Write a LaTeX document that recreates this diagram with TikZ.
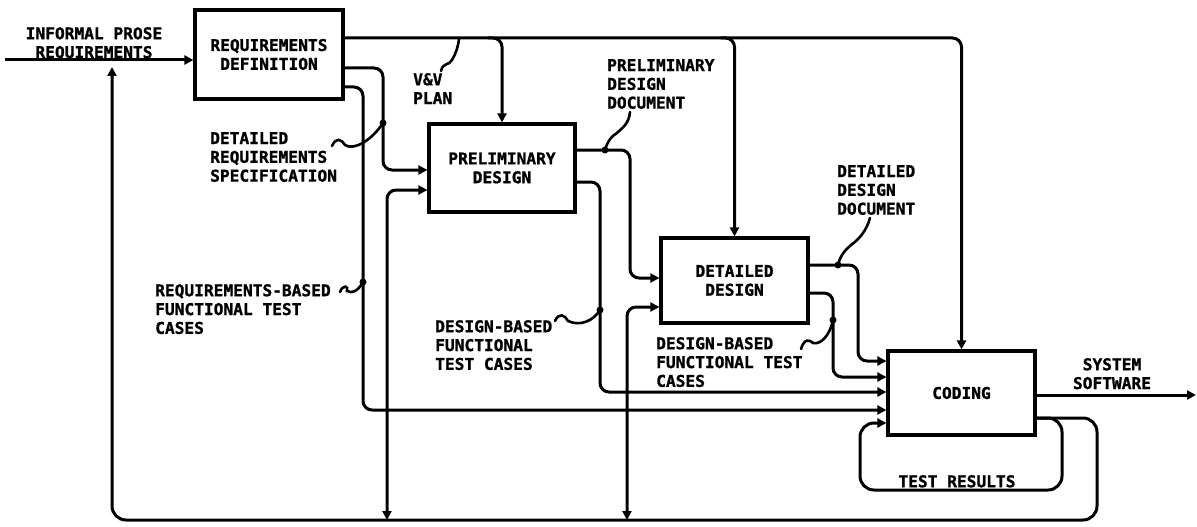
\documentclass[tikz,border=0pt]{standalone}
\usepackage{fontspec}
\newfontfamily\plotfont{DejaVu Sans Mono}[BoldFeatures={FakeBold=1.2}]
\usetikzlibrary{arrows.meta,calc}
\begin{document}
\begin{tikzpicture}[x=1pt,y=-1pt,
  every node/.style={font=\plotfont\bfseries\fontsize{16.2}{18.8}\selectfont},
  box/.style={draw, line width=3.2pt, align=center, inner sep=0pt},
  tip/.style={-{Triangle[length=9pt,width=9pt]}},
  wire/.style={line width=3pt, rounded corners=9pt},
  lbl/.style={anchor=north west, align=left, inner sep=0pt},
  lblc/.style={anchor=north, align=center, inner sep=0pt},
  squig/.style={line width=2.6pt, line cap=round}
]
\useasboundingbox (0,0) rectangle (1197,527);

% boxes
\node[box, minimum width=148pt, minimum height=89pt] (rd) at (269,54.5) {REQUIREMENTS\\DEFINITION};
\node[box, minimum width=146pt, minimum height=88pt] (pd) at (502,168) {PRELIMINARY\\DESIGN};
\node[box, minimum width=147pt, minimum height=85pt] (dd) at (734.5,280.5) {DETAILED\\DESIGN};
\node[box, minimum width=147pt, minimum height=84pt] (cd) at (961.5,393) {CODING};

% labels
\node[lblc] (inform) at (94,27) {INFORMAL PROSE\\REQUIREMENTS};
\node[lbl] (vv) at (413,73) {V\&V\\PLAN};
\node[lbl] (drs) at (210,132) {DETAILED\\REQUIREMENTS\\SPECIFICATION};
\node[lbl] (pdd) at (607,59) {PRELIMINARY\\DESIGN\\DOCUMENT};
\node[lbl] (ddd) at (837,165) {DETAILED\\DESIGN\\DOCUMENT};
\node[lbl] (rbf) at (155,284) {REQUIREMENTS-BASED\\FUNCTIONAL TEST\\CASES};
\node[lbl] (dbf1) at (435,320) {DESIGN-BASED\\FUNCTIONAL\\TEST CASES};
\node[lbl] (dbf2) at (656,337) {DESIGN-BASED\\FUNCTIONAL TEST\\CASES};
\node[lblc] (sys) at (1112,358) {SYSTEM\\SOFTWARE};
\node[lblc] (tr) at (957,475) {TEST RESULTS};

% free ends
\coordinate (inp) at (5,60);
\coordinate (out) at (1196,395);

% input / output
\draw[wire, tip] (inp) -- (rd.west |- 0,60);
\draw[wire, tip] (cd.east |- 0,395) -- (out);

% V&V plan distribution
\draw[wire, tip] (rd.east |- 0,38) -- (cd.north |- 0,38) -- (cd.north);
\draw[wire, tip] ($(pd.north |- 0,38)+(-14,0)$) -- (pd.north |- 0,38) -- (pd.north);
\draw[wire, tip] ($(dd.north |- 0,38)+(-14,0)$) -- (dd.north |- 0,38) -- (dd.north);

% requirements definition outputs
\draw[wire, tip] (rd.east |- 0,68) -- (383,68) -- (383,170) -- (pd.west |- 0,170);
\draw[wire, tip] (rd.east |- 0,87) -- (363,87) -- (363,410) -- (cd.west |- 0,410);

% preliminary design outputs
\draw[wire, tip] (pd.east |- 0,150) -- (630,150) -- (630,278) -- (dd.west |- 0,278);
\draw[wire, tip] (pd.east |- 0,182) -- (600,182) -- (600,392) -- (cd.west |- 0,392);

% detailed design outputs
\draw[wire, tip] (dd.east |- 0,265) -- (858,265) -- (858,361) -- (cd.west |- 0,361);
\draw[wire, tip] (dd.east |- 0,293) -- (833,293) -- (833,377) -- (cd.west |- 0,377);

% test results loops
\draw[wire, rounded corners=14pt, tip] (cd.east |- 0,418) -- (1062,418) -- (1062,490) -- (860,490) -- (860,423) -- (cd.west |- 0,423);
\draw[wire, rounded corners=14pt, tip] (cd.east |- 0,418) -- (1097,418) -- (1097,520) -- (112,520) -- (112,67);
\draw[wire, {Triangle[length=9pt,width=9pt]}-{Triangle[length=9pt,width=9pt]}] (387,520) -- (387,190) -- (pd.west |- 0,190);
\draw[wire, {Triangle[length=9pt,width=9pt]}-{Triangle[length=9pt,width=9pt]}] (627,520) -- (627,307) -- (dd.west |- 0,307);

% label leaders
\coordinate (d1) at (383,123);
\coordinate (d2) at (605,150);
\coordinate (d3) at (838,265);
\coordinate (d4) at (363,282);
\coordinate (d5) at (600,310);
\coordinate (d6) at (833,320);
\coordinate (vvend) at (459,39);
\draw[squig] (441,71) .. controls (443,62) and (449,66) .. (452,60) .. controls (456,53) and (458,47) .. (vvend);
\draw[squig] (332,146) .. controls (336,137) and (341,139) .. (345,145) .. controls (354,151) and (372,140) .. (d1);
\draw[squig] (630,112) .. controls (629,124) and (622,128) .. (617,133) .. controls (612,136) and (608,140) .. (d2);
\draw[squig] (870,218) .. controls (866,232) and (858,240) .. (851,245) .. controls (845,250) and (840,256) .. (d3);
\draw[squig] (340,292) .. controls (343,284) and (349,286) .. (347,291) .. controls (352,294) and (358,291) .. (d4);
\draw[squig] (555,321) .. controls (559,312) and (565,315) .. (568,321) .. controls (581,327) and (594,320) .. (d5);
\draw[squig] (801,349) .. controls (804,339) and (809,339) .. (813,343) .. controls (821,345) and (830,335) .. (d6);
\foreach \d in {d1,d2,d3,d4,d5,d6} \fill (\d) circle (3.5pt);
\end{tikzpicture}
\end{document}
